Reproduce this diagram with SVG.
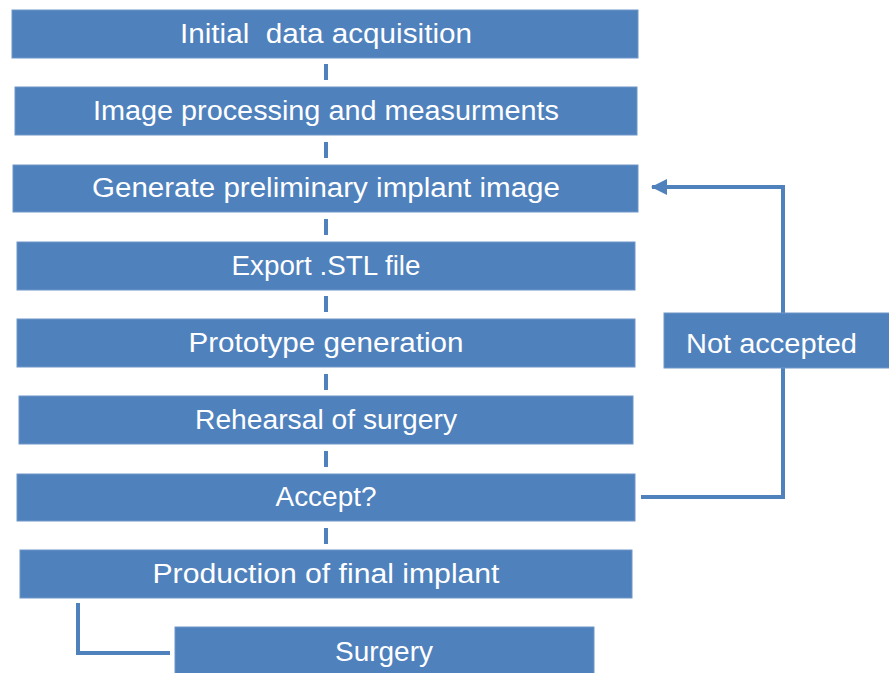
<svg xmlns="http://www.w3.org/2000/svg" width="889" height="673" viewBox="0 0 889 673">
  <style>
    .box { fill: #4F81BD; stroke: #6E97C8; stroke-width: 1; }
    .lbl { fill: #FFFFFF; font-family: "Liberation Sans", Arial, sans-serif; font-size: 27px; text-anchor: middle; }
    .lbl-start { fill: #FFFFFF; font-family: "Liberation Sans", Arial, sans-serif; font-size: 27px; }
    .link { fill: none; stroke: #4F81BD; stroke-width: 4; }
  </style>
  <defs>
    <marker id="arrow" markerUnits="userSpaceOnUse" markerWidth="16" markerHeight="16" refX="15" refY="8" orient="auto">
      <path d="M0,0 L16,8 L0,16 Z" fill="#4F81BD"/>
    </marker>
  </defs>
  <rect width="889" height="673" fill="#FFFFFF"/>

  <g id="connectors">
    <line class="link" x1="326" y1="64" x2="326" y2="80"/>
    <line class="link" x1="326" y1="142" x2="326" y2="158"/>
    <line class="link" x1="326" y1="219" x2="326" y2="235"/>
    <line class="link" x1="326" y1="296" x2="326" y2="312"/>
    <line class="link" x1="326" y1="374" x2="326" y2="390"/>
    <line class="link" x1="326" y1="451" x2="326" y2="467"/>
    <line class="link" x1="326" y1="528" x2="326" y2="544"/>
    <polyline class="link" points="78,603 78,653 170,653"/>
    <polyline class="link" points="641,497 783,497 783,187 652,187" marker-end="url(#arrow)"/>
  </g>

  <g id="n1">
    <rect class="box" x="12" y="10" width="626" height="48"/>
    <text class="lbl" x="326" y="43" textLength="292" lengthAdjust="spacingAndGlyphs" xml:space="preserve">Initial  data acquisition</text>
  </g>
  <g id="n2">
    <rect class="box" x="15" y="87" width="622" height="48"/>
    <text class="lbl" x="326" y="120" textLength="466" lengthAdjust="spacingAndGlyphs">Image processing and measurments</text>
  </g>
  <g id="n3">
    <rect class="box" x="13" y="165" width="625" height="47"/>
    <text class="lbl" x="326" y="197" textLength="468" lengthAdjust="spacingAndGlyphs">Generate preliminary implant image</text>
  </g>
  <g id="n4">
    <rect class="box" x="17" y="242" width="618" height="48"/>
    <text class="lbl" x="326" y="275" textLength="189" lengthAdjust="spacingAndGlyphs">Export .STL file</text>
  </g>
  <g id="n5">
    <rect class="box" x="17" y="319" width="618" height="48"/>
    <text class="lbl" x="326" y="352" textLength="275" lengthAdjust="spacingAndGlyphs">Prototype generation</text>
  </g>
  <g id="n6">
    <rect class="box" x="19" y="396" width="614" height="48"/>
    <text class="lbl" x="326" y="429" textLength="262" lengthAdjust="spacingAndGlyphs">Rehearsal of surgery</text>
  </g>
  <g id="n7">
    <rect class="box" x="17" y="474" width="618" height="47"/>
    <text class="lbl" x="326" y="506" textLength="101" lengthAdjust="spacingAndGlyphs">Accept?</text>
  </g>
  <g id="n8">
    <rect class="box" x="20" y="550" width="612" height="48"/>
    <text class="lbl" x="326" y="583" textLength="347" lengthAdjust="spacingAndGlyphs">Production of final implant</text>
  </g>
  <g id="n9">
    <rect class="box" x="175" y="627" width="419" height="48"/>
    <text class="lbl" x="384" y="661" textLength="98" lengthAdjust="spacingAndGlyphs">Surgery</text>
  </g>
  <g id="n10">
    <rect class="box" x="664" y="313" width="226" height="55"/>
    <text class="lbl-start" x="686" y="353" textLength="171" lengthAdjust="spacingAndGlyphs">Not accepted</text>
  </g>
</svg>
